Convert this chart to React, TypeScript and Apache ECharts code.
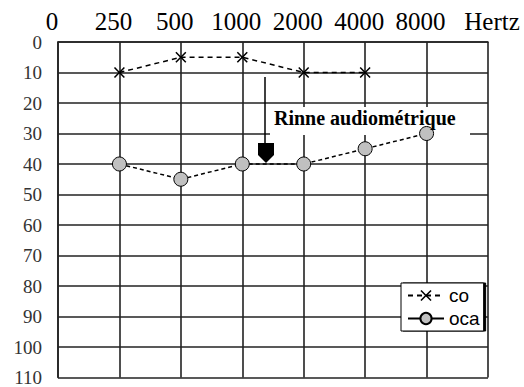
import React, { useEffect, useRef } from "react";
import * as echarts from "echarts";

const frequencies = ["0", "250", "500", "1000", "2000", "4000", "8000", "Hertz"];
const coValues = [null, 10, 5, 5, 10, 10, null, null];
const ocaValues = [null, 40, 45, 40, 40, 35, 30, null];
const seriesNames = ["co", "oca"];
const yMin = 0;
const yMax = 110;
const yStep = 10;
const annotationText = "Rinne audiométrique";

const xMark = "path://M0,1L1,0L5,4L9,0L10,1L6,5L10,9L9,10L5,6L1,10L0,9L4,5Z";

export default function App() {
  const ref = useRef<HTMLDivElement>(null);
  useEffect(() => {
    if (!ref.current) return;
    const chart = echarts.init(ref.current, undefined, { renderer: "svg" });
    const gridLine = { color: "#222", width: 1.6 };
    chart.setOption({
      animation: false,
      backgroundColor: "#fff",
      grid: { left: 58, right: 36, top: 42, bottom: 5 },
      xAxis: {
        type: "category",
        position: "top",
        data: frequencies,
        boundaryGap: false,
        axisLine: { show: true, lineStyle: gridLine },
        axisTick: { show: false },
        axisLabel: {
          interval: 0,
          margin: 8,
          fontFamily: '"Liberation Serif", serif',
          fontSize: 25,
          color: "#000",
          padding: [0, 12, 0, 0],
          formatter: (v: string) => (v === "Hertz" ? "{h|Hertz}" : v),
          rich: {
            h: {
              fontFamily: '"Liberation Serif", serif',
              fontSize: 25,
              color: "#000",
              padding: [0, 0, 0, 20],
            },
          },
        },
        splitLine: { show: true, lineStyle: gridLine },
      },
      yAxis: {
        type: "value",
        inverse: true,
        min: yMin,
        max: yMax,
        interval: yStep,
        axisLine: { show: true, lineStyle: gridLine },
        axisTick: { show: false },
        axisLabel: {
          margin: 16,
          fontFamily: '"Liberation Serif", serif',
          fontSize: 19,
          color: "#333",
        },
        splitLine: { show: true, lineStyle: gridLine },
      },
      legend: {
        orient: "vertical",
        left: 401,
        top: 283,
        data: [
          { name: seriesNames[0] },
          { name: seriesNames[1], lineStyle: { type: "solid" } },
        ],
        itemWidth: 36,
        itemHeight: 14,
        itemGap: 4,
        padding: [3, 4, 3, 6],
        backgroundColor: "#fff",
        borderColor: "#000",
        borderWidth: 1,
        shadowColor: "#000",
        shadowOffsetX: 2,
        shadowBlur: 0,
        textStyle: {
          fontFamily: '"Liberation Sans", Arial, sans-serif',
          fontSize: 19,
          color: "#000",
        },
      },
      series: [
        {
          name: seriesNames[0],
          type: "line",
          data: coValues,
          symbol: xMark,
          symbolSize: 11,
          itemStyle: { color: "#000" },
          lineStyle: { color: "#000", width: 1.5, type: [5, 4] },
          z: 3,
        },
        {
          name: seriesNames[1],
          type: "line",
          data: ocaValues,
          symbol: "circle",
          symbolSize: 14,
          itemStyle: { color: "#c0c0c0", borderColor: "#000", borderWidth: 1 },
          lineStyle: { color: "#000", width: 1.5, type: [4, 3] },
          z: 3,
        },
      ],
      graphic: [
        {
          type: "rect",
          z: 1,
          shape: { x: 270, y: 107, width: 200, height: 28 },
          style: { fill: "#fff" },
        },
        {
          type: "text",
          z: 4,
          x: 274,
          y: 118,
          style: {
            text: annotationText,
            font: 'bold 20px "Liberation Serif", serif',
            fill: "#000",
            verticalAlign: "middle",
          },
        },
        {
          type: "line",
          z: 4,
          shape: { x1: 265, y1: 77, x2: 265, y2: 148 },
          style: { stroke: "#000", lineWidth: 1.5 },
        },
        {
          type: "polygon",
          z: 4,
          shape: { points: [[258, 143], [274, 143], [274, 155], [266, 163], [258, 155]] },
          style: { fill: "#000" },
        },
      ],
    });
    return () => chart.dispose();
  }, []);
  return (
    <div
      ref={ref}
      style={{ position: "fixed", left: 0, top: 0, width: 524, height: 387 }}
    />
  );
}
